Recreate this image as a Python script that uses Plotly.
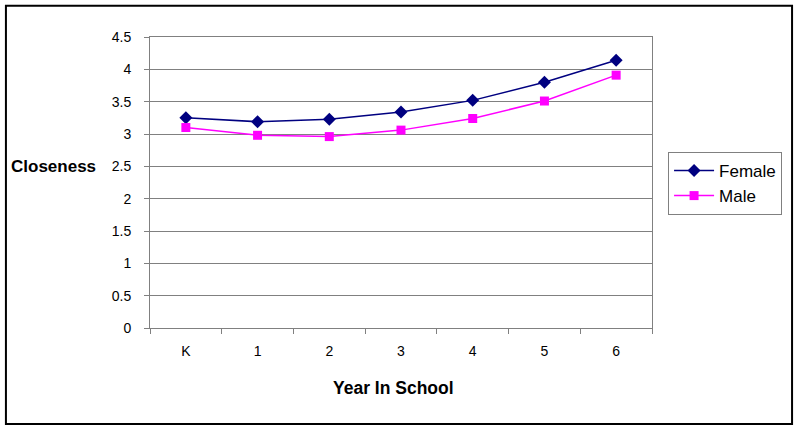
import plotly.graph_objects as go

categories = ["K", "1", "2", "3", "4", "5", "6"]
female = [3.25, 3.19, 3.23, 3.34, 3.52, 3.80, 4.14]
male = [3.10, 2.98, 2.96, 3.06, 3.24, 3.51, 3.91]
y_ticks = [0, 0.5, 1, 1.5, 2, 2.5, 3, 3.5, 4, 4.5]
y_tick_text = ["0", "0.5", "1", "1.5", "2", "2.5", "3", "3.5", "4", "4.5"]

fig = go.Figure()
fig.add_trace(go.Scatter(x=categories, y=female, name="Female", mode="lines+markers",
                         line=dict(color="#000080", width=1.5),
                         marker=dict(symbol="diamond", size=10, color="#000080")))
fig.add_trace(go.Scatter(x=categories, y=male, name="Male", mode="lines+markers",
                         line=dict(color="#FF00FF", width=1.5),
                         marker=dict(symbol="square", size=9, color="#FF00FF")))

fig.update_layout(
    width=800, height=431,
    margin=dict(l=150, r=148, t=37, b=103),
    paper_bgcolor="white", plot_bgcolor="white",
    font=dict(family="Liberation Sans, Arial, sans-serif", size=14, color="black"),
    showlegend=True,
    legend=dict(x=1.032, y=0.605, xanchor="left", yanchor="top",
                bordercolor="#808080", borderwidth=1, bgcolor="white",
                font=dict(size=17), itemwidth=40, tracegroupgap=2),
    xaxis=dict(type="category", tickson="boundaries", ticks="outside", ticklen=5,
               tickcolor="#808080", showline=True, linecolor="#808080", linewidth=1,
               mirror=True, showgrid=False, ticklabelstandoff=10,
               range=[-0.5, 6.5]),
    yaxis=dict(range=[0, 4.5], tickvals=y_ticks, ticktext=y_tick_text,
               ticks="outside", ticklen=5, tickcolor="#808080",
               showline=True, linecolor="#808080", linewidth=1, mirror=True,
               showgrid=True, gridcolor="#808080", gridwidth=1, zeroline=False,
               ticklabelstandoff=10),
    shapes=[dict(type="rect", xref="paper", yref="paper", x0=-0.287, x1=1.279,
                 y0=-0.330, y1=1.107, line=dict(color="black", width=2))],
    annotations=[
        dict(text="<b>Closeness</b>", xref="paper", yref="paper", x=-0.281, y=0.555,
             xanchor="left", yanchor="middle", showarrow=False, font=dict(size=17)),
        dict(text="<b>Year In School</b>", xref="paper", yref="paper", x=0.486, y=-0.205,
             xanchor="center", yanchor="middle", showarrow=False, font=dict(size=17.5)),
    ],
)

fig.write_html("out.html", config={"displayModeBar": False},
               post_script="document.body.style.margin='0';")
